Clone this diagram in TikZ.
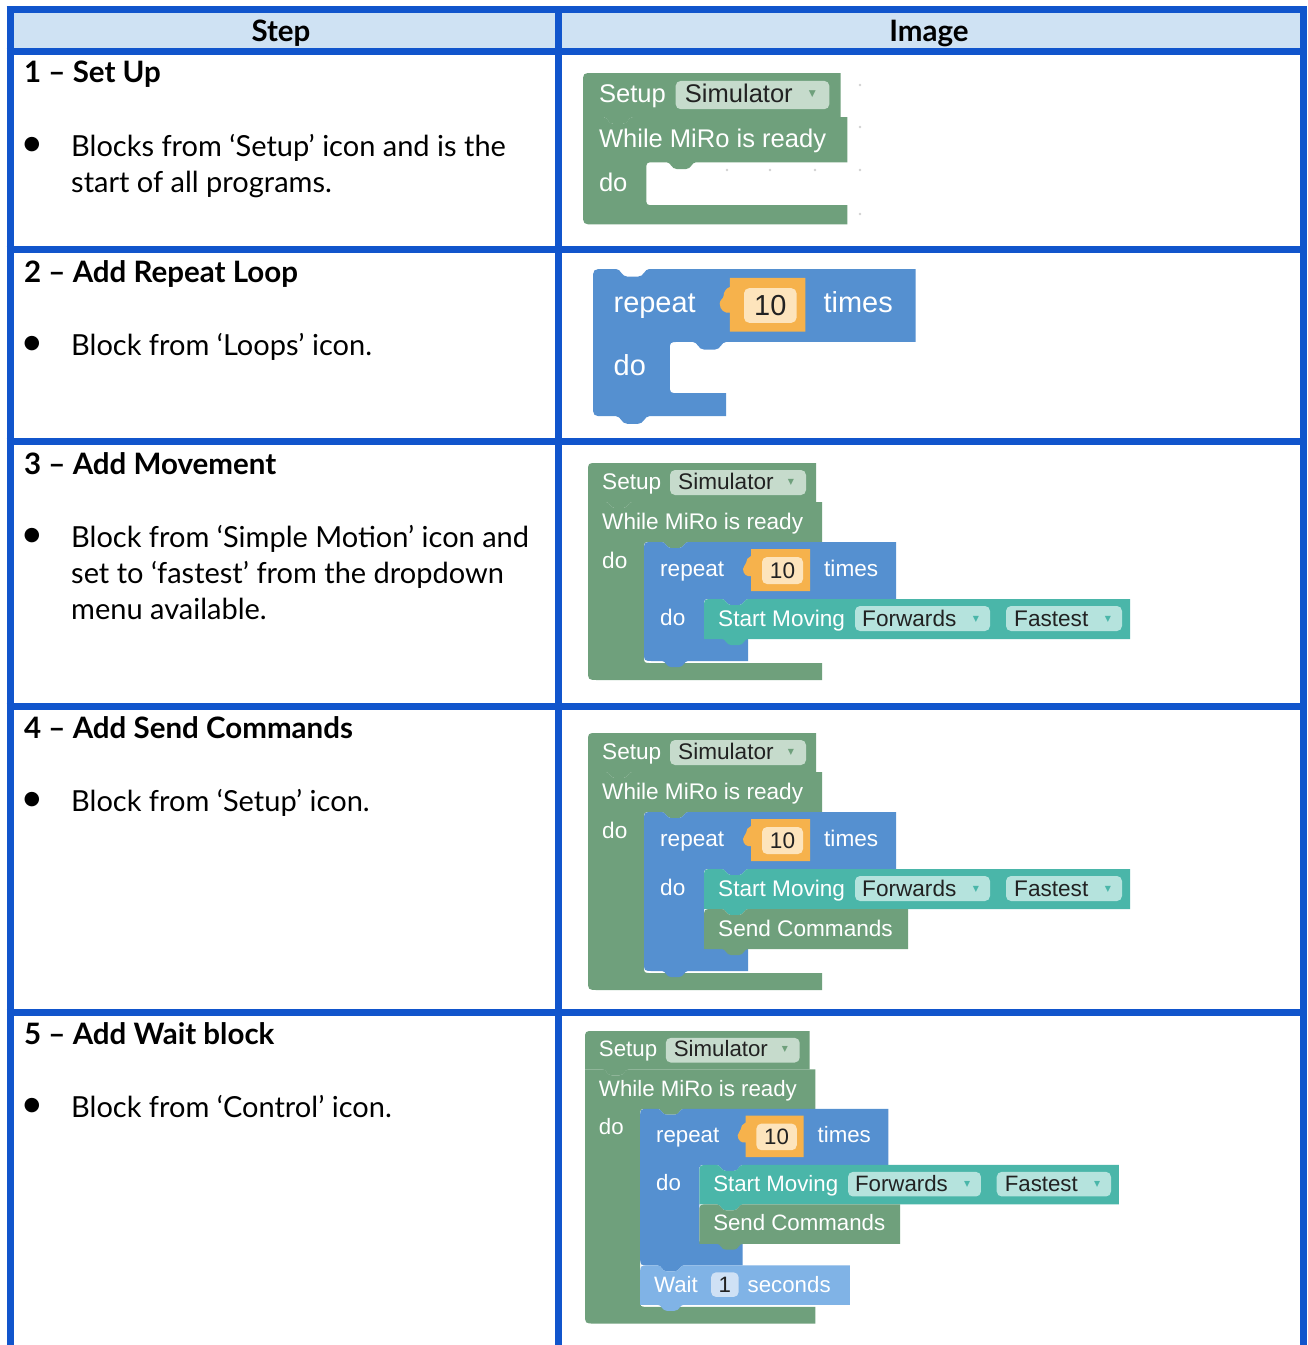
\documentclass[tikz,border=0pt]{standalone}
\usepackage{fontspec}
\setmainfont{Lato}
\newfontfamily\blkf{Liberation Sans}
\newfontfamily\symf{DejaVu Sans}

\definecolor{tblue}{HTML}{1155CC}
\definecolor{hdr}{HTML}{CFE2F3}
\definecolor{bgreen}{HTML}{6FA07C}
\definecolor{bgreenf}{HTML}{C6DBCC}
\definecolor{bblue}{HTML}{5590D0}
\definecolor{borange}{HTML}{F6B24C}
\definecolor{borangef}{HTML}{FDE4BC}
\definecolor{bteal}{HTML}{4AB6A9}
\definecolor{btealf}{HTML}{B5E3DD}
\definecolor{blight}{HTML}{80B3E6}
\definecolor{blightf}{HTML}{CFE1F5}
\definecolor{ftxt}{HTML}{222222}

\def\bs{1}
\def\NchR#1#2{-- ({#1+18},{#2}) .. controls ({#1+22},{#2}) and ({#1+22},{#2+6}) .. ({#1+27},{#2+6}) -- ({#1+35},{#2+6}) .. controls ({#1+40},{#2+6}) and ({#1+40},{#2}) .. ({#1+44},{#2})}
\def\NchL#1#2{-- ({#1+44},{#2}) .. controls ({#1+40},{#2}) and ({#1+40},{#2+6}) .. ({#1+35},{#2+6}) -- ({#1+27},{#2+6}) .. controls ({#1+22},{#2+6}) and ({#1+22},{#2}) .. ({#1+18},{#2})}

\tikzset{
  tline/.style={line width=7pt, draw=tblue},
  hd/.style={font=\fontsize{29.5}{34}\selectfont\bfseries, inner sep=0, anchor=base},
  ttl/.style={font=\fontsize{29.5}{36}\selectfont\bfseries, inner sep=0, anchor=base west},
  body/.style={font=\fontsize{29}{36}\selectfont, inner sep=0, anchor=base west},
  bul/.style={font=\symf\fontsize{19}{19}\selectfont, inner sep=0, anchor=center},
  bt/.style={font=\blkf\fontsize{\fpeval{22.6*\bs}}{\fpeval{26*\bs}}\selectfont, text=white, inner sep=0, anchor=base west},
  ft/.style={bt, text=ftxt},
  arr/.style={font=\symf\fontsize{\fpeval{8*\bs}}{\fpeval{8*\bs}}\selectfont, inner sep=0, anchor=center},
  gdot/.style={fill=black!18},
}

\newcommand\SetupBlk[1]{%
  \fill[bgreen] (0,9) .. controls (0,0) .. (9,0) -- (228,0) -- (228,39) \NchL{0}{39} -- (0,39) -- cycle;
  \fill[bgreenf,rounded corners=5pt] (82,7) rectangle (218,32);
  \node[bt] (#1setup) at (14,26) {Setup};
  \node[ft] (#1sim) at (90,26) {Simulator};
  \node[arr,text=bgreen] (#1simarr) at (203,19) {▼};
}
\newcommand\WhileBlk[2]{%
  \fill[bgreen] (0,39) \NchR{0}{39} -- (234,39) -- (234,79) \NchL{56}{79} -- (63,79) .. controls (56,79) .. (56,86) -- (56,{72+#2}) .. controls (56,{79+#2}) .. (63,{79+#2}) -- (234,{79+#2}) -- (234,{96+#2}) -- (10,{96+#2}) .. controls (0,{96+#2}) .. (0,{86+#2}) -- cycle;
  \node[bt] (#1while) at (14,66) {While MiRo is ready};
  \node[bt] (#1wdo) at (14,105) {do};
}
\newcommand\RepeatBlk[3]{%
  \fill[bblue] (0,9) .. controls (0,0) .. (9,0) \NchR{0}{0} -- (252,0) -- (252,57) \NchL{60}{57} -- (67,57) .. controls (60,57) .. (60,64) -- (60,{50+#2}) .. controls (60,{57+#2}) .. (67,{57+#2}) -- (104,{57+#2}) -- (104,{57+#2+#3}) \NchL{0}{57+#2+#3} -- (9,{57+#2+#3}) .. controls (0,{57+#2+#3}) .. (0,{48+#2+#3}) -- cycle;
  \fill[borange] (107,7) -- (166,7) -- (166,49) -- (107,49) -- (107,34) .. controls (103,35) and (99,32) .. (99,27) .. controls (99,24) and (102,23) .. (102,21) .. controls (102,18) and (104,15) .. (107,14) -- cycle;
  \fill[borangef,rounded corners=5pt] (118,15) rectangle (159,42);
  \node[bt] (#1rep) at (16,34) {repeat};
  \node[ft,anchor=base] (#1ten) at (138.5,36) {10};
  \node[bt] (#1times) at (180,34) {times};
  \node[bt] (#1rdo) at (16,83) {do};
}
\newcommand\StmtShape[2]{%
  \fill[#1] (0,9) .. controls (0,0) .. (9,0) \NchR{0}{0} -- (#2,0) -- (#2,40) \NchL{0}{40} -- (0,40) -- cycle;
}
\newcommand\MoveBlk[1]{%
  \StmtShape{bteal}{426}
  \fill[btealf,rounded corners=5pt] (151,7) rectangle (286,32);
  \fill[btealf,rounded corners=5pt] (302,7) rectangle (418,32);
  \node[bt] (#1mv) at (14,27) {Start Moving};
  \node[ft] (#1fw) at (158,27) {Forwards};
  \node[arr,text=bteal] (#1fwa) at (272,20) {▼};
  \node[ft] (#1fs) at (310,27) {Fastest};
  \node[arr,text=bteal] (#1fsa) at (404,20) {▼};
}
\newcommand\SendBlk[1]{%
  \StmtShape{bgreen}{204}
  \node[bt] (#1send) at (14,27) {Send Commands};
}
\newcommand\WaitBlk[1]{%
  \StmtShape{blight}{213}
  \fill[blightf,rounded corners=5pt] (72,7) rectangle (100,32);
  \node[bt] (#1wait) at (14,27) {Wait};
  \node[ft,anchor=base] (#1one) at (86,27) {1};
  \node[bt] (#1sec) at (109,27) {seconds};
}

\begin{document}
\begin{tikzpicture}[x=1pt,y=-1pt]
\useasboundingbox (0,0) rectangle (1308,1345);
\fill[white] (0,0) rectangle (1308,1345);
% header band
\fill[hdr] (13,13) rectangle (555,48);
\fill[hdr] (562,13) rectangle (1300,48);
% table lines
\draw[tline] (6.5,9.5) -- (1307,9.5);
\draw[tline] (6.5,51.5) -- (1307,51.5);
\draw[tline] (6.5,249.5) -- (1307,249.5);
\draw[tline] (6.5,441.5) -- (1307,441.5);
\draw[tline] (6.5,706) -- (1307,706);
\draw[tline] (6.5,1012.5) -- (1307,1012.5);
\draw[tline] (10,6) -- (10,1345);
\draw[tline] (558.5,6) -- (558.5,1345);
\draw[tline] (1303.5,6) -- (1303.5,1345);

% header text
\node[hd] (hstep) at (281,41) {Step};
\node[hd] (himg) at (929,41) {Image};

% step column
\node[ttl] (t1) at (24,82) {1 – Set Up};
\node[bul] (b1) at (32,145) {●};
\node[body] (l1a) at (71,156) {Blocks from ‘Setup’ icon and is the};
\node[body] (l1b) at (71,192) {start of all programs.};

\node[ttl] (t2) at (24,282) {2 – Add Repeat Loop};
\node[bul] (b2) at (32,344) {●};
\node[body] (l2a) at (71,355) {Block from ‘Loops’ icon.};

\node[ttl] (t3) at (24,474) {3 – Add Movement};
\node[bul] (b3) at (32,536) {●};
\node[body] (l3a) at (71,547) {Block from ‘Simple Motion’ icon and};
\node[body] (l3b) at (71,583) {set to ‘fastest’ from the dropdown};
\node[body] (l3c) at (71,619) {menu available.};

\node[ttl] (t4) at (24,738) {4 – Add Send Commands};
\node[bul] (b4) at (32,800) {●};
\node[body] (l4a) at (71,811) {Block from ‘Setup’ icon.};

\node[ttl] (t5) at (24,1044) {5 – Add Wait block};
\node[bul] (b5) at (32,1106) {●};
\node[body] (l5a) at (71,1117) {Block from ‘Control’ icon.};

% row 1 image
\foreach \gx/\gy in {860/85,860/127,860/170,860/214,727/170,770/170,815/170}
  \fill[gdot] (\gx,\gy) circle (1.3);
\begin{scope}[shift={(583,73)},scale=1.13]
  \def\bs{1.13}
  \SetupBlk{a}
  \WhileBlk{a}{38}
\end{scope}

% row 2 image
\begin{scope}[shift={(593,269)},scale=1.28]
  \def\bs{1.28}
  \RepeatBlk{b}{40}{18}
\end{scope}

% row 3 image
\begin{scope}[shift={(588,463)}]
  \def\bs{1}
  \SetupBlk{c}
  \WhileBlk{c}{121}
  \begin{scope}[shift={(56,79)}]
    \RepeatBlk{c}{40}{22}
    \begin{scope}[shift={(60,57)}]
      \MoveBlk{c}
    \end{scope}
  \end{scope}
\end{scope}

% row 4 image
\begin{scope}[shift={(588,733)}]
  \def\bs{1}
  \SetupBlk{d}
  \WhileBlk{d}{161}
  \begin{scope}[shift={(56,79)}]
    \RepeatBlk{d}{80}{22}
    \begin{scope}[shift={(60,57)}]
      \MoveBlk{d}
    \end{scope}
    \begin{scope}[shift={(60,97)}]
      \SendBlk{d}
    \end{scope}
  \end{scope}
\end{scope}

% row 5 image
\begin{scope}[shift={(585,1031)},scale=0.985]
  \def\bs{0.985}
  \SetupBlk{e}
  \WhileBlk{e}{201}
  \begin{scope}[shift={(56,79)}]
    \RepeatBlk{e}{80}{22}
    \begin{scope}[shift={(60,57)}]
      \MoveBlk{e}
    \end{scope}
    \begin{scope}[shift={(60,97)}]
      \SendBlk{e}
    \end{scope}
  \end{scope}
  \begin{scope}[shift={(56,238)}]
    \WaitBlk{e}
  \end{scope}
\end{scope}
\end{tikzpicture}
\end{document}
